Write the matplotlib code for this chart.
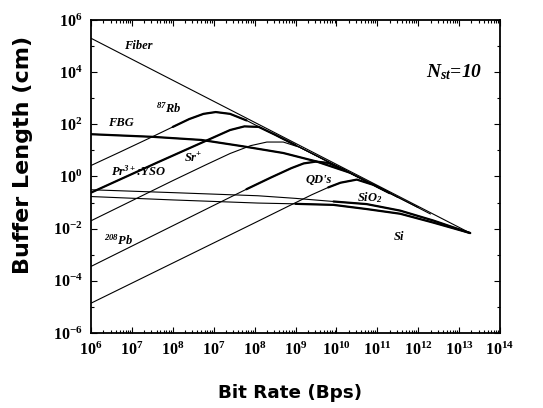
import numpy as np
import matplotlib.pyplot as plt
from matplotlib.ticker import FixedLocator, FixedFormatter, LogLocator, NullFormatter

plt.rcParams['mathtext.default'] = 'regular'

# x: position along the bit-rate axis in decades from the first tick
# y: log10 of the buffer length (cm)
fiber_u = [0, 9.27]
fiber_y = [5.30, -2.17]

fbg_u = [0, 1.5, 2.7, 3.7, 4.7, 5.5, 6.3, 7.3, 8.3]
fbg_y = [1.62, 1.52, 1.40, 1.16, 0.90, 0.58, 0.16, -0.63, -1.44]

rb_u = [0, 0.7, 1.47, 2.0, 2.4, 2.75, 3.05, 3.4, 3.8, 4.3, 4.9, 5.6, 6.4, 7.3]
rb_y = [0.42, 0.93, 1.50, 1.90, 2.20, 2.40, 2.47, 2.40, 2.15, 1.75, 1.28, 0.73, 0.09, -0.63]

pr_u = [0, 0.8, 1.6, 2.4, 3.0, 3.4, 3.75, 4.1, 4.5, 5.0, 5.6, 6.3, 7.2]
pr_y = [-0.62, -0.05, 0.52, 1.08, 1.50, 1.78, 1.92, 1.90, 1.60, 1.20, 0.72, 0.15, -0.56]

sr_u = [0, 1.0, 2.0, 2.8, 3.4, 3.9, 4.3, 4.7, 5.1, 5.6, 6.3, 7.2]
sr_y = [-1.70, -0.93, -0.16, 0.44, 0.88, 1.18, 1.32, 1.32, 1.12, 0.72, 0.15, -0.56]

pb_u = [0, 1.0, 2.0, 3.0, 3.8, 4.4, 4.9, 5.2, 5.5, 5.8, 6.2, 6.8, 7.5]
pb_y = [-3.45, -2.67, -1.89, -1.11, -0.49, -0.04, 0.32, 0.50, 0.57, 0.52, 0.25, -0.24, -0.80]

qd_u = [0, 1.0, 2.0, 3.0, 4.0, 4.8, 5.4, 5.8, 6.1, 6.5, 6.9, 7.3, 8.0]
qd_y = [-4.86, -4.09, -3.32, -2.55, -1.78, -1.16, -0.70, -0.42, -0.24, -0.12, -0.32, -0.64, -1.19]

sio2_u = [0, 2.0, 4.08, 5.0, 5.93, 6.74, 7.56, 8.37, 9.27]
sio2_y = [-0.51, -0.62, -0.74, -0.84, -0.96, -1.06, -1.31, -1.69, -2.17]

si_u = [0, 2.0, 4.08, 5.0, 5.93, 6.74, 7.56, 8.37, 9.27]
si_y = [-0.77, -0.90, -1.02, -1.05, -1.09, -1.25, -1.43, -1.77, -2.17]

x_labels = ['$10^{6}$', '$10^{7}$', '$10^{8}$', '$10^{7}$', '$10^{8}$', '$10^{9}$',
            '$10^{10}$', '$10^{11}$', '$10^{12}$', '$10^{13}$', '$10^{14}$']
y_exps = [-6, -4, -2, 0, 2, 4, 6]


def to_xy(u, ly):
    return 10 ** (6 + np.array(u)), 10 ** np.array(ly)


fig = plt.figure(figsize=(5.43, 4.08), dpi=100)
ax = fig.add_axes([0.1676, 0.184, 0.7532, 0.767])

thin = 0.8
thick = 1.6

# (u, y, width, slice drawn thick)
curves = [
    (fiber_u, fiber_y, thin, None),
    (fbg_u, fbg_y, thin, slice(0, 7)),
    (rb_u, rb_y, thin, slice(3, 9)),
    (pr_u, pr_y, thin, slice(0, 10)),
    (sr_u, sr_y, thin, None),
    (pb_u, pb_y, thin, slice(4, 11)),
    (qd_u, qd_y, thin, slice(7, 12)),
    (sio2_u, sio2_y, thin, slice(4, 9)),
    (si_u, si_y, thin, slice(3, 9)),
]
for u, ly, w, thick_part in curves:
    x, y = to_xy(u, ly)
    ax.plot(x, y, color='black', lw=w, solid_capstyle='round')
    if thick_part is not None:
        ax.plot(x[thick_part], y[thick_part], color='black', lw=thick,
                solid_capstyle='round', solid_joinstyle='round')

ax.set_xscale('log')
ax.set_yscale('log')
ax.set_xlim(1e6, 1e16)
ax.set_ylim(1e-6, 1e6)

xt = [10.0 ** (6 + i) for i in range(len(x_labels))]
ax.xaxis.set_major_locator(FixedLocator(xt))
ax.xaxis.set_major_formatter(FixedFormatter(x_labels))
ax.xaxis.set_minor_locator(LogLocator(base=10, subs=np.arange(2, 10), numticks=100))
ax.xaxis.set_minor_formatter(NullFormatter())

yt = [10.0 ** e for e in y_exps]
ax.yaxis.set_major_locator(FixedLocator(yt))
ax.yaxis.set_major_formatter(FixedFormatter(['$10^{%d}$' % e for e in y_exps]))
ax.yaxis.set_minor_locator(FixedLocator([10.0 ** e for e in range(-5, 6, 2)]))
ax.yaxis.set_minor_formatter(NullFormatter())

ax.tick_params(which='both', direction='in', top=True, right=True, width=0.8)
ax.tick_params(which='major', length=4, pad=6)
ax.tick_params(which='minor', length=2)
for lab in ax.get_xticklabels() + ax.get_yticklabels():
    lab.set_family('Liberation Serif')
    lab.set_weight('bold')
    lab.set_fontsize(11.5)
for s in ax.spines.values():
    s.set_linewidth(1.3)

ax.set_xlabel('Bit Rate (Bps)', fontsize=13.2, fontweight='bold', family='DejaVu Sans')
ax.set_ylabel('Buffer Length (cm)', fontsize=16, fontweight='bold', family='DejaVu Sans')
ax.xaxis.set_label_coords(0.487, -0.162)
ax.yaxis.set_label_coords(-0.142, 0.57)

lbl = dict(family='Liberation Serif', style='italic', weight='bold', fontsize=9,
           ha='center', va='center')
notes = [
    (1.15, 5.0, 'Fiber'),
    (1.91, 2.63, '$^{87}$Rb'),
    (0.73, 2.05, 'FBG'),
    (1.17, 0.18, 'Pr$^{3+}$:YSO'),
    (2.5, 0.71, 'Sr$^{+}$'),
    (0.68, -2.43, '$^{208}$Pb'),
    (5.57, -0.13, "QD's"),
    (6.83, -0.82, 'SiO$_{2}$'),
    (7.53, -2.31, 'Si'),
]
for u, ly, t in notes:
    x, y = to_xy(u, ly)
    ax.text(x, y, t, **lbl)

x, y = to_xy(8.87, 4.0)
ax.text(x, y, 'N$_{st}$=10', family='Liberation Serif', style='italic', weight='bold',
        fontsize=14, ha='center', va='center')

fig.savefig('out.png', dpi=100)
